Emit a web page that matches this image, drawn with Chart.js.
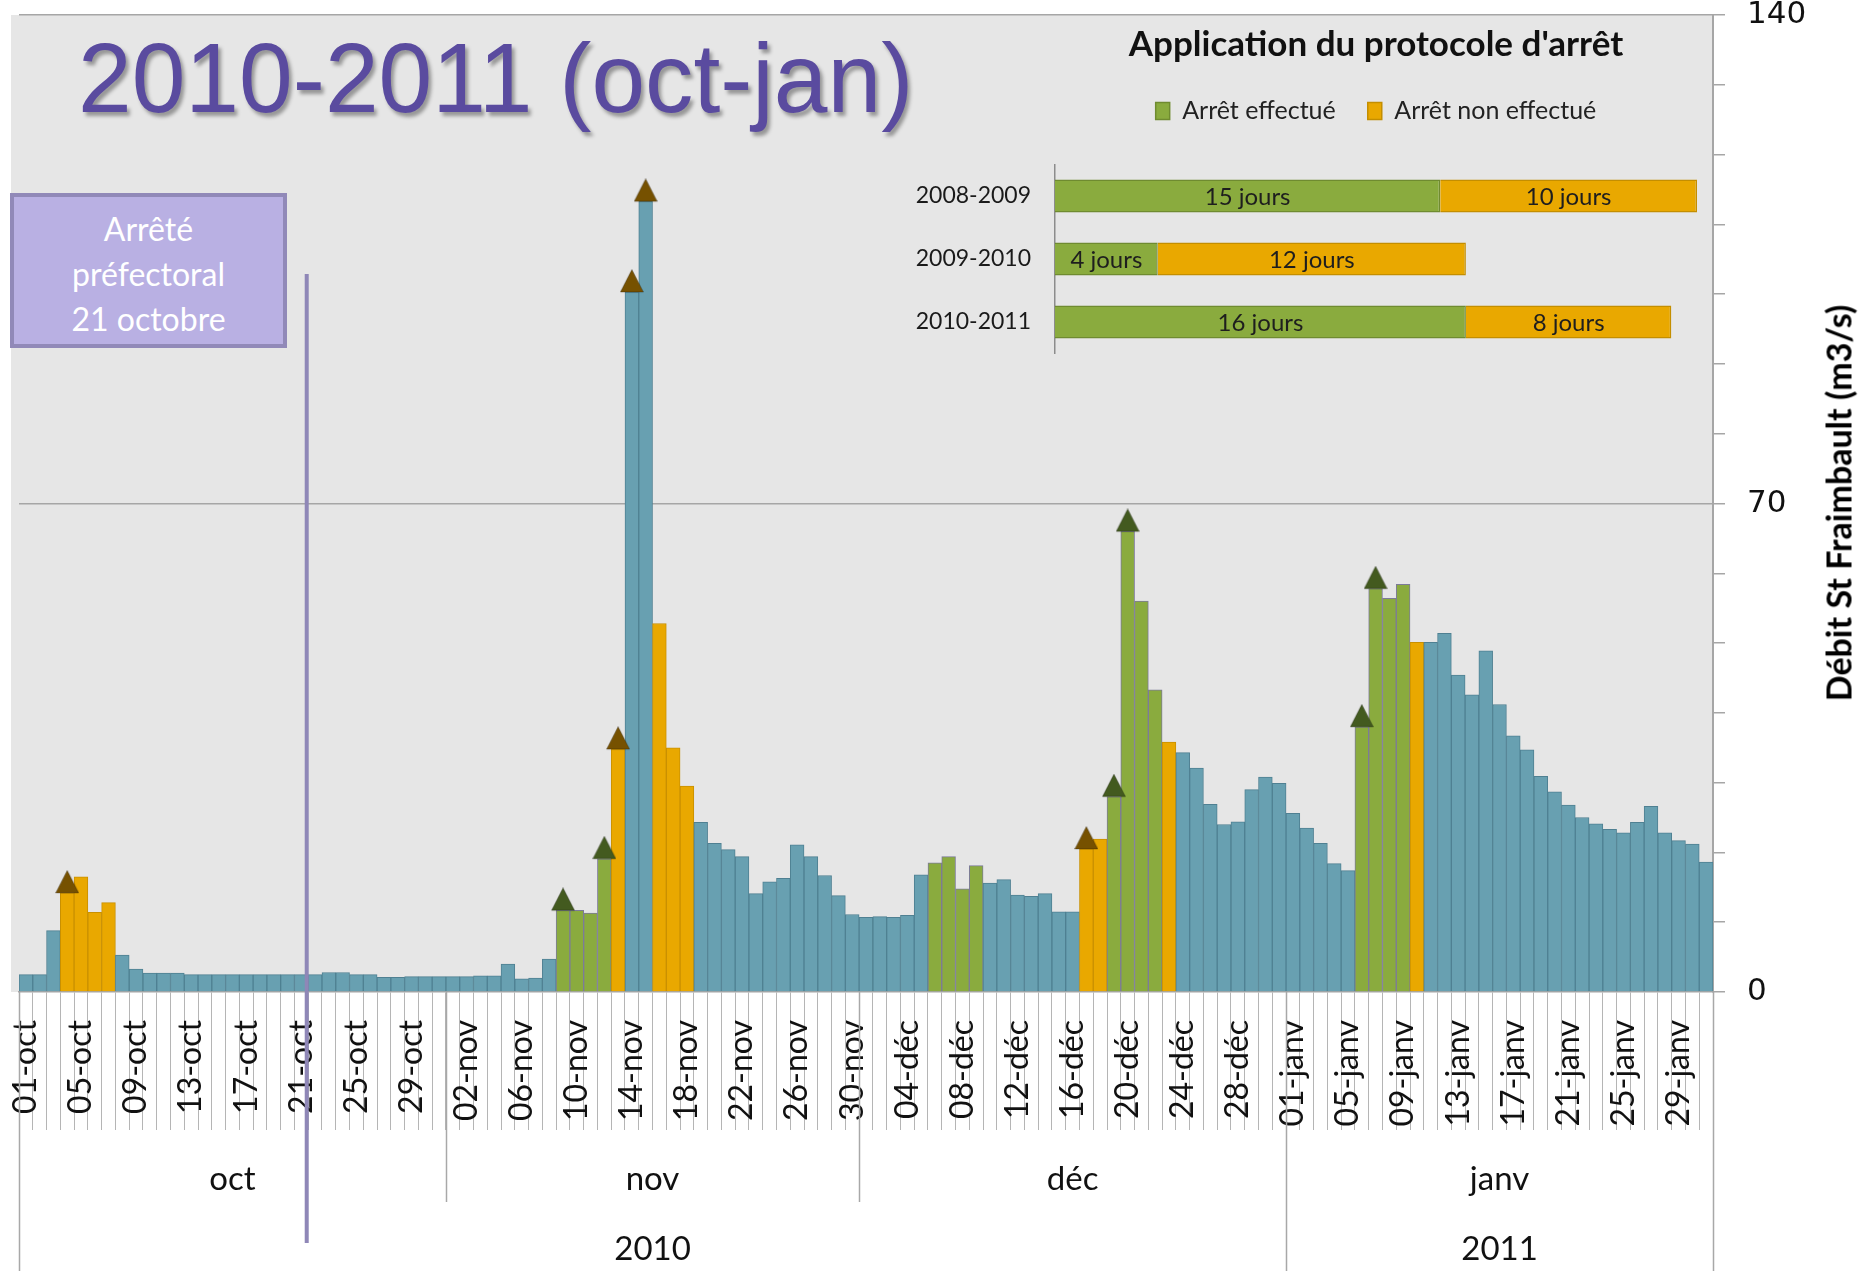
<!DOCTYPE html>
<html lang="fr">
<head>
<meta charset="utf-8">
<title>Débit St Fraimbault 2010-2011 (oct-jan)</title>
<script src="https://cdn.jsdelivr.net/npm/chart.js@4.4.1/dist/chart.umd.min.js"></script>
<style>
  html, body { margin: 0; padding: 0; background: #fff; }
  #wrap { position: relative; width: 1865px; height: 1271px; overflow: hidden; font-family: Lato, sans-serif; }
  #main { position: absolute; left: 0; top: 0; }
  #inset { position: absolute; left: 880px; top: 15px; }
  #titre {
    position: absolute; left: 78px; top: 29px;
    font: 98px 'Liberation Sans', Arial, sans-serif; line-height: 1;
    color: #5a4b9f; white-space: nowrap;
    text-shadow: 3px 4px 4px rgba(0, 0, 0, 0.35);
    transform: scaleX(0.985); transform-origin: left top;
  }
  #arrete {
    position: absolute; left: 10px; top: 193px; width: 277px; height: 155px;
    box-sizing: border-box; border: 4px solid #9189b8; background: #b9b0e3;
    color: #fff; font: 32px Lato, sans-serif; line-height: 45px; text-align: center;
    padding-top: 9px;
  }
  #ytitre {
    position: absolute; left: 1838px; top: 503px;
    transform: translate(-50%, -50%) rotate(-90deg);
    font: bold 34px Lato, sans-serif; color: #000; white-space: nowrap;
  }
</style>
</head>
<body>
<div id="wrap">
  <canvas id="main" width="1865" height="1271"></canvas>
  <canvas id="inset" width="970" height="345"></canvas>
  <div id="titre">2010-2011 (oct-jan)</div>
  <div id="arrete">Arrêté<br>préfectoral<br>21 octobre</div>
  <div id="ytitre">Débit St Fraimbault (m3/s)</div>
</div>
<script>
// --- Données : débit journalier (m3/s) ---
const mois = ['oct', 'nov', 'déc', 'janv'];
const annees = ['2010', '2010', '2010', '2011'];
const joursParMois = [31, 30, 31, 31];

const debitOct = [2.5, 2.5, 8.8, 14.2, 16.5, 11.4, 12.8, 5.3, 3.3, 2.7, 2.7, 2.7, 2.5, 2.5, 2.5, 2.5,
                  2.5, 2.5, 2.5, 2.5, 2.5, 2.5, 2.8, 2.8, 2.5, 2.5, 2.1, 2.1, 2.2, 2.2, 2.2];
const debitNov = [2.2, 2.2, 2.3, 2.3, 4.0, 1.9, 2.0, 4.7, 11.7, 11.7, 11.3, 19.1, 34.8, 100.3, 113.3,
                  52.8, 35.0, 29.5, 24.3, 21.3, 20.4, 19.4, 14.1, 15.8, 16.3, 21.1, 19.4, 16.7, 13.8, 11.1];
const debitDec = [10.7, 10.8, 10.7, 11.0, 16.8, 18.5, 19.4, 14.8, 18.1, 15.6, 16.1, 13.9, 13.7, 14.1, 11.5,
                  11.5, 20.5, 21.9, 28.0, 66.0, 56.0, 43.3, 35.8, 34.3, 32.1, 26.9, 24.0, 24.4, 29.0, 30.8, 29.9];
const debitJan = [25.6, 23.5, 21.3, 18.4, 17.4, 38.0, 57.8, 56.4, 58.4, 50.1, 50.1, 51.4, 45.4, 42.6, 48.9,
                  41.2, 36.7, 34.7, 30.9, 28.7, 26.8, 25.0, 24.1, 23.3, 22.8, 24.3, 26.6, 22.8, 21.7, 21.2, 18.6];

// jours où l'arrêt a été effectué / non effectué, et jours marqués d'une flèche
const arretEffectue = ['09-nov', '10-nov', '11-nov', '12-nov', '06-déc', '07-déc', '08-déc', '09-déc',
                       '19-déc', '20-déc', '21-déc', '22-déc', '06-janv', '07-janv', '08-janv', '09-janv'];
const arretNonEffectue = ['04-oct', '05-oct', '06-oct', '07-oct', '13-nov', '16-nov', '17-nov', '18-nov',
                          '17-déc', '18-déc', '23-déc', '10-janv'];
const fleches = ['04-oct', '09-nov', '12-nov', '13-nov', '14-nov', '15-nov', '17-déc', '19-déc', '20-déc',
                 '06-janv', '07-janv'];

// --- Encart : application du protocole d'arrêt ---
const saisons = ['2008-2009', '2009-2010', '2010-2011'];
const joursEffectues = [15, 4, 16];
const joursNonEffectues = [10, 12, 8];

// libellés des jours
const jours = [];
mois.forEach((m, k) => {
    for (let d = 1; d <= joursParMois[k]; d++) jours.push(String(d).padStart(2, '0') + '-' + m);
});
const debit = [].concat(debitOct, debitNov, debitDec, debitJan);

const BLEU = '#68a0b1', VERT = '#8aab3e', ORANGE = '#e9a800';
const couleurs = jours.map(j => arretEffectue.includes(j) ? VERT : (arretNonEffectue.includes(j) ? ORANGE : BLEU));
const bordures = couleurs.map(c => c === VERT ? '#7d7b99' : (c === ORANGE ? '#c99000' : '#4f8092'));

function triangle(couleur) {
    // la pointe en haut, la base au centre du canevas -> la base se pose sur le haut de la barre
    const c = document.createElement('canvas');
    c.width = 24; c.height = 46;
    const g = c.getContext('2d');
    g.beginPath();
    g.moveTo(12, 0.5); g.lineTo(23.5, 23); g.lineTo(0.5, 23); g.closePath();
    g.fillStyle = couleur; g.fill();
    g.strokeStyle = 'rgba(0,0,0,0.25)'; g.lineWidth = 1; g.stroke();
    return c;
}
const triBrun = triangle('#765100');
const triVert = triangle('#435a1f');
const flecheData = jours.map((j, i) => fleches.includes(j) ? debit[i] : null);
const flecheStyle = couleurs.map(c => c === VERT ? triVert : triBrun);

// fond, séparateurs de mois/années, libellés et trait de l'arrêté
const decor = {
    id: 'decor',
    beforeDraw(chart) {
        const { ctx, chartArea: a } = chart;
        ctx.save();
        ctx.fillStyle = '#e6e6e6';
        ctx.fillRect(a.left - 8, a.top, a.right - a.left + 8, a.bottom - a.top);
        ctx.restore();
    },
    afterDraw(chart) {
        const { ctx, chartArea: a } = chart;
        const x = chart.scales.x;
        const bord = i => x.getPixelForValue(i - 0.5);
        ctx.save();
        ctx.fillStyle = '#111';
        ctx.textAlign = 'center';
        ctx.font = '33px Lato';
        ctx.strokeStyle = '#a8a8a8';
        ctx.lineWidth = 1.5;

        let debut = 0;
        const limites = [0];
        mois.forEach((m, k) => {
            const fin = debut + joursParMois[k];
            ctx.fillText(m, (bord(debut) + bord(fin)) / 2, a.bottom + 198);
            limites.push(fin);
            debut = fin;
        });
        // années
        debut = 0;
        let k0 = 0;
        const limitesAnnee = [0];
        for (let k = 1; k <= mois.length; k++) {
            if (k === mois.length || annees[k] !== annees[k0]) {
                let fin = 0;
                for (let q = 0; q < k; q++) fin += joursParMois[q];
                ctx.fillText(annees[k0], (bord(debut) + bord(fin)) / 2, a.bottom + 268);
                limitesAnnee.push(fin);
                debut = fin; k0 = k;
            }
        }
        limites.forEach(b => {
            const px = Math.round(bord(b)) + 0.5;
            ctx.beginPath();
            ctx.moveTo(px, a.bottom);
            ctx.lineTo(px, limitesAnnee.includes(b) ? chart.height : a.bottom + 210);
            ctx.stroke();
        });

        // arrêté préfectoral du 21 octobre
        const xa = bord(jours.indexOf('21-oct') + 1) - 1.5;
        ctx.strokeStyle = '#8f87b7';
        ctx.lineWidth = 4;
        ctx.beginPath();
        ctx.moveTo(xa, a.top + 259);
        ctx.lineTo(xa, chart.height - 28);
        ctx.stroke();
        ctx.restore();
    }
};

new Chart(document.getElementById('main'), {
    type: 'bar',
    data: {
        labels: jours,
        datasets: [
            {
                type: 'line',
                label: 'flèches',
                data: flecheData,
                showLine: false,
                pointStyle: flecheStyle,
                pointRadius: 12,
                order: 0
            },
            {
                label: 'Débit St Fraimbault',
                data: debit,
                backgroundColor: couleurs,
                borderColor: bordures,
                borderWidth: 1,
                barPercentage: 1,
                categoryPercentage: 1,
                order: 1
            }
        ]
    },
    options: {
        responsive: false,
        animation: false,
        events: [],
        layout: { padding: { left: 19, top: 15 } },
        plugins: { legend: { display: false }, tooltip: { enabled: false } },
        scales: {
            x: {
                grid: { offset: true, drawOnChartArea: false, tickLength: 138, color: '#b5b5b5', lineWidth: 1 },
                border: { color: '#a6a6a6', width: 1.5 },
                ticks: {
                    autoSkip: false, maxRotation: 90, minRotation: 90, padding: -110,
                    color: '#111', font: { family: 'Lato', size: 32 },
                    callback: function(v, i) { return i % 4 === 0 ? this.getLabelForValue(v) : ''; }
                },
                afterFit: s => { s.height = 279; }
            },
            y: {
                position: 'right',
                min: 0, max: 140,
                grid: {
                    color: c => (c.tick && c.tick.value > 0 && c.tick.value % 70 === 0) ? '#a6a6a6' : 'rgba(0,0,0,0)',
                    tickColor: '#a6a6a6', tickLength: 12, lineWidth: 1.5
                },
                border: { color: '#a6a6a6', width: 2 },
                ticks: {
                    stepSize: 10, padding: 22, color: '#111',
                    font: { family: 'DejaVu Sans', size: 31 },
                    callback: v => v % 70 === 0 ? v : ''
                },
                afterFit: s => { s.width = 152; s.paddingTop = 0; s.paddingBottom = 0; }
            }
        }
    },
    plugins: [decor]
});

// étiquettes "n jours" au centre des barres de l'encart
const etiquettes = {
    id: 'etiquettes',
    afterDatasetsDraw(chart) {
        const { ctx } = chart;
        ctx.save();
        ctx.font = '24px Lato';
        ctx.fillStyle = '#1e1e1e';
        ctx.textAlign = 'center';
        ctx.textBaseline = 'middle';
        chart.data.datasets.forEach((ds, i) => {
            chart.getDatasetMeta(i).data.forEach((bar, j) => {
                ctx.fillText(ds.data[j] + ' jours', (bar.x + bar.base) / 2, bar.y + 1);
            });
        });
        ctx.restore();
    }
};
// espace supplémentaire sous la légende
const espaceLegende = {
    id: 'espaceLegende',
    beforeInit(chart) {
        const fit = chart.legend.fit;
        chart.legend.fit = function() {
            fit.call(this);
            this.height += 31;
        };
    }
};

new Chart(document.getElementById('inset'), {
    type: 'bar',
    data: {
        labels: saisons,
        datasets: [
            { label: 'Arrêt effectué', data: joursEffectues, backgroundColor: VERT, borderColor: '#6f8b30', borderWidth: 1.5,
              barPercentage: 0.524, categoryPercentage: 1 },
            { label: 'Arrêt non effectué', data: joursNonEffectues, backgroundColor: ORANGE, borderColor: '#c48e00', borderWidth: 1.5,
              barPercentage: 0.524, categoryPercentage: 1 }
        ]
    },
    options: {
        indexAxis: 'y',
        responsive: false,
        animation: false,
        events: [],
        layout: { padding: { left: 0, right: 153, top: 0, bottom: 6.5 } },
        scales: {
            x: { stacked: true, min: 0, max: 25, display: false },
            y: {
                stacked: true,
                grid: { display: false },
                border: { color: '#8c8c8c', width: 1.5 },
                ticks: { padding: 16, color: '#1a1a1a', font: { family: 'Lato', size: 23 } },
                afterFit: s => { s.width = 175; s.paddingTop = 0; s.paddingBottom = 0; }
            }
        },
        plugins: {
            title: {
                display: true, fullSize: false, text: "Application du protocole d'arrêt", color: '#111',
                font: { family: 'Lato', size: 35, weight: 'bold' },
                padding: { top: 9, bottom: 0.5 }
            },
            legend: {
                fullSize: false,
                labels: { boxWidth: 14, boxHeight: 17, padding: 32, color: '#222', font: { family: 'Lato', size: 25 } }
            },
            tooltip: { enabled: false }
        }
    },
    plugins: [etiquettes, espaceLegende]
});
</script>
</body>
</html>
